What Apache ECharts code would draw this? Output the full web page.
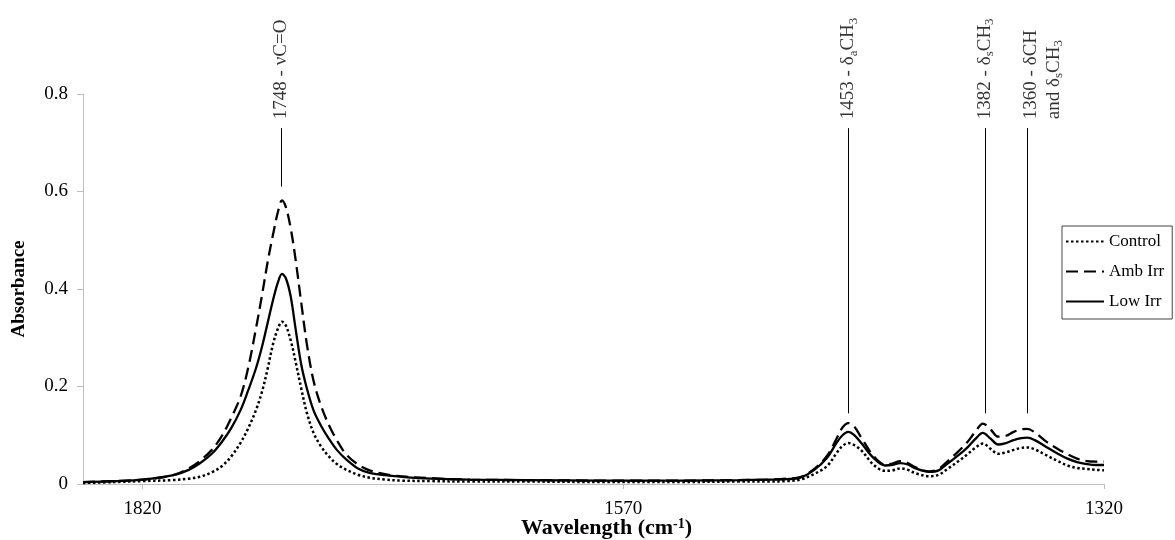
<!DOCTYPE html>
<html>
<head>
<meta charset="utf-8">
<title>FTIR absorbance</title>
<script src="https://cdn.jsdelivr.net/npm/echarts@6/dist/echarts.min.js"></script>
<style>
  html, body { margin: 0; padding: 0; background: #fff; }
  #chart { width: 1175px; height: 540px; }
</style>
</head>
<body>
<div id="chart"></div>
<script>
// Wavenumber sampling points (cm-1), shared by all three spectra
const wavenumbers = [1851, 1835, 1820, 1804, 1796, 1790, 1784, 1779, 1774, 1769, 1765, 1761, 1758, 1755, 1752, 1749.5, 1747.5, 1745.5, 1743, 1740.5, 1737.5, 1734.5, 1731, 1727, 1723, 1719, 1714, 1708, 1702, 1694, 1686, 1670, 1650, 1620, 1580, 1540, 1510, 1495, 1485, 1478, 1471, 1464, 1459, 1456, 1453, 1450, 1446, 1440, 1434, 1430, 1426, 1422, 1418, 1411, 1406, 1401, 1396, 1391, 1387, 1383, 1379, 1375, 1371, 1367, 1363, 1360, 1356, 1350, 1344, 1339, 1334, 1329, 1324, 1320];

const control = [0.002, 0.004, 0.006, 0.008, 0.011, 0.015, 0.024, 0.036, 0.056, 0.085, 0.115, 0.152, 0.188, 0.236, 0.290, 0.320, 0.333, 0.325, 0.295, 0.252, 0.196, 0.145, 0.104, 0.076, 0.056, 0.041, 0.029, 0.019, 0.013, 0.009, 0.007, 0.006, 0.005, 0.005, 0.004, 0.004, 0.005, 0.005, 0.006, 0.009, 0.020, 0.037, 0.064, 0.078, 0.084, 0.080, 0.068, 0.040, 0.027, 0.028, 0.032, 0.029, 0.022, 0.016, 0.019, 0.032, 0.046, 0.061, 0.074, 0.083, 0.072, 0.062, 0.065, 0.070, 0.074, 0.075, 0.071, 0.059, 0.047, 0.038, 0.033, 0.031, 0.029, 0.028];

const ambIrr = [0.004, 0.006, 0.009, 0.018, 0.032, 0.048, 0.070, 0.097, 0.135, 0.180, 0.240, 0.320, 0.385, 0.455, 0.515, 0.560, 0.582, 0.568, 0.525, 0.462, 0.372, 0.285, 0.210, 0.158, 0.120, 0.090, 0.060, 0.040, 0.028, 0.020, 0.016, 0.012, 0.009, 0.008, 0.007, 0.007, 0.008, 0.009, 0.011, 0.014, 0.030, 0.058, 0.094, 0.116, 0.125, 0.118, 0.094, 0.058, 0.040, 0.042, 0.047, 0.043, 0.034, 0.026, 0.031, 0.048, 0.066, 0.086, 0.107, 0.124, 0.112, 0.097, 0.099, 0.107, 0.112, 0.113, 0.106, 0.087, 0.072, 0.061, 0.052, 0.047, 0.046, 0.046];

const lowIrr = [0.004, 0.006, 0.009, 0.018, 0.029, 0.043, 0.062, 0.085, 0.114, 0.152, 0.193, 0.238, 0.280, 0.330, 0.380, 0.415, 0.431, 0.422, 0.385, 0.320, 0.245, 0.195, 0.150, 0.118, 0.092, 0.070, 0.050, 0.032, 0.023, 0.018, 0.015, 0.011, 0.009, 0.008, 0.007, 0.007, 0.008, 0.009, 0.010, 0.013, 0.028, 0.054, 0.085, 0.100, 0.107, 0.101, 0.083, 0.054, 0.038, 0.039, 0.043, 0.040, 0.032, 0.025, 0.028, 0.043, 0.058, 0.075, 0.092, 0.105, 0.093, 0.081, 0.084, 0.090, 0.094, 0.095, 0.090, 0.076, 0.062, 0.052, 0.045, 0.041, 0.039, 0.039];

const seriesNames = ['Control', 'Amb Irr', 'Low Irr'];
const xTickValues = [1820, 1570, 1320];

// Band assignments: position (cm-1), text, and vertical extent of the leader line (absorbance)
const bandPositions = [1748, 1453, 1382, 1360];
const bandLabels = [
  '1748 - νC=O',
  '1453 - δ{sub|a}CH{sub|3}',
  '1382 - δ{sub|s}CH{sub|3}',
  '1360 - δCH\nand δ{sub|s}CH{sub|3}'
];
const bandLineFrom = [0.61, 0.145, 0.145, 0.145];
const bandLineTo = [0.73, 0.73, 0.73, 0.73];

const FONT = '"Liberation Serif", "Times New Roman", serif';

const pairs = (vals) => wavenumbers.map((w, i) => [w, vals[i]]);

const curveBase = {
  type: 'line',
  symbol: 'none',
  smooth: 0.35,
  silent: true,
  z: 3
};

const chart = echarts.init(document.getElementById('chart'), null, { renderer: 'canvas' });

chart.setOption({
  backgroundColor: '#ffffff',
  animation: false,
  textStyle: { fontFamily: FONT, color: '#000' },
  grid: { left: 83, right: 71, top: 94, bottom: 56, containLabel: false, outerBoundsMode: 'none' },
  legend: {
    orient: 'vertical',
    left: 1062,
    top: 226,
    selectedMode: false,
    data: seriesNames,
    itemWidth: 38,
    itemHeight: 14,
    itemGap: 13,
    padding: [7, 8, 9, 3],
    borderColor: '#444',
    borderWidth: 1,
    backgroundColor: '#fff',
    itemStyle: { opacity: 0 },
    textStyle: { fontFamily: FONT, fontSize: 17, color: '#000' }
  },
  xAxis: {
    type: 'value',
    inverse: true,
    min: 1320,
    max: 1851,
    name: 'Wavelength (cm{sup|-1})',
    nameLocation: 'middle',
    nameMoveOverlap: false,
    nameGap: 33,
    nameTextStyle: {
      fontFamily: FONT, fontSize: 22, fontWeight: 'bold', color: '#000',
      padding: [0, 0, 0, 26],
      rich: {
        sup: { fontFamily: FONT, fontSize: 14, fontWeight: 'bold', verticalAlign: 'top', padding: [0, 0, 6, 0] }
      }
    },
    axisLine: { onZero: true, lineStyle: { color: '#bfbfbf', width: 1 } },
    axisTick: { show: true, length: 5, customValues: xTickValues, lineStyle: { color: '#bfbfbf' } },
    axisLabel: {
      customValues: xTickValues,
      formatter: (v) => String(v),
      fontFamily: FONT, fontSize: 19, color: '#000', margin: 16
    },
    splitLine: { show: false }
  },
  yAxis: {
    type: 'value',
    min: 0,
    max: 0.8,
    interval: 0.2,
    name: 'Absorbance',
    nameLocation: 'middle',
    nameMoveOverlap: false,
    nameGap: 54,
    nameTextStyle: { fontFamily: FONT, fontSize: 19, fontWeight: 'bold', color: '#000' },
    axisLine: { show: true, lineStyle: { color: '#bfbfbf', width: 1 } },
    axisTick: { show: true, length: 6, lineStyle: { color: '#bfbfbf' } },
    axisLabel: { fontFamily: FONT, fontSize: 19, color: '#000', margin: 15 },
    splitLine: { show: false }
  },
  series: [
    Object.assign({}, curveBase, {
      name: seriesNames[0],
      data: pairs(control),
      lineStyle: { color: '#000', width: 2.5, type: [2.5, 2.5] },
      itemStyle: { color: '#000' }
    }),
    Object.assign({}, curveBase, {
      name: seriesNames[1],
      data: pairs(ambIrr),
      lineStyle: { color: '#000', width: 2.3, type: [12, 6] },
      itemStyle: { color: '#000' }
    }),
    Object.assign({}, curveBase, {
      name: seriesNames[2],
      data: pairs(lowIrr),
      lineStyle: { color: '#000', width: 2.3, type: 'solid' },
      itemStyle: { color: '#000' }
    }),
    {
      // band assignment labels with leader lines
      type: 'scatter',
      name: 'bands',
      silent: true,
      symbolSize: 0,
      z: 5,
      data: bandPositions.map((w, i) => ({
        value: [w, bandLineTo[i]],
        label: i === 3 ? { offset: [0, 15] } : {}
      })),
      label: {
        show: true,
        position: 'top',
        distance: 9,
        rotate: 90,
        align: 'left',
        verticalAlign: 'middle',
        fontFamily: FONT,
        fontSize: 19,
        color: '#000',
        lineHeight: 23,
        formatter: (p) => bandLabels[p.dataIndex],
        rich: {
          sub: { fontFamily: FONT, fontSize: 13, color: '#000', verticalAlign: 'bottom', lineHeight: 23 }
        }
      },
      markLine: {
        silent: true,
        symbol: 'none',
        animation: false,
        label: { show: false },
        lineStyle: { color: '#000', width: 1, type: 'solid' },
        data: bandPositions.map((w, i) => [
          { coord: [w, bandLineFrom[i]] },
          { coord: [w, bandLineTo[i]] }
        ])
      }
    }
  ]
});
</script>
</body>
</html>
